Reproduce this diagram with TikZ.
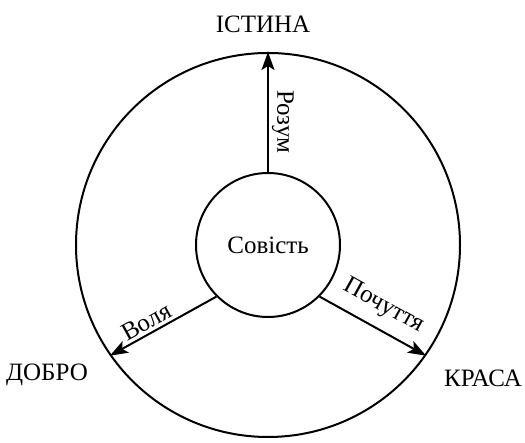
\documentclass[tikz,border=0pt]{standalone}
\usepackage{fontspec}
\setmainfont{Liberation Serif}
\usetikzlibrary{arrows.meta}
\begin{document}
\begin{tikzpicture}[x=1pt, y=1pt, line width=2pt,
	>={Stealth[length=18pt, width=13pt, inset=4pt]},
	every node/.style={font=\fontsize{25}{29}\selectfont, inner sep=3pt}]
	\useasboundingbox (0,0) rectangle (525,443);

	\node [draw, circle, minimum size=384pt, inner sep=0pt] (world) at (268,198) {};
	\node [draw, circle, minimum size=144pt, inner sep=0pt] (sovist) at (268,198) {Совість};

	\draw [->] (sovist.north) -- (world.north) node [pos=0.42, rotate=-90, anchor=south] (rozum) {Розум};
	\draw [->] (sovist.225) -- (world.215) node [pos=0.6, sloped, above] (volia) {Воля};
	\draw [->] (sovist.-45) -- (world.-35) node [midway, sloped, above=8pt] (pochuttia) {Почуття};

	\node (istyna) at (263,419) {ІСТИНА};
	\node (dobro) at (47,68) {ДОБРО};
	\node (krasa) at (483,65) {КРАСА};

\end{tikzpicture}
\end{document}
